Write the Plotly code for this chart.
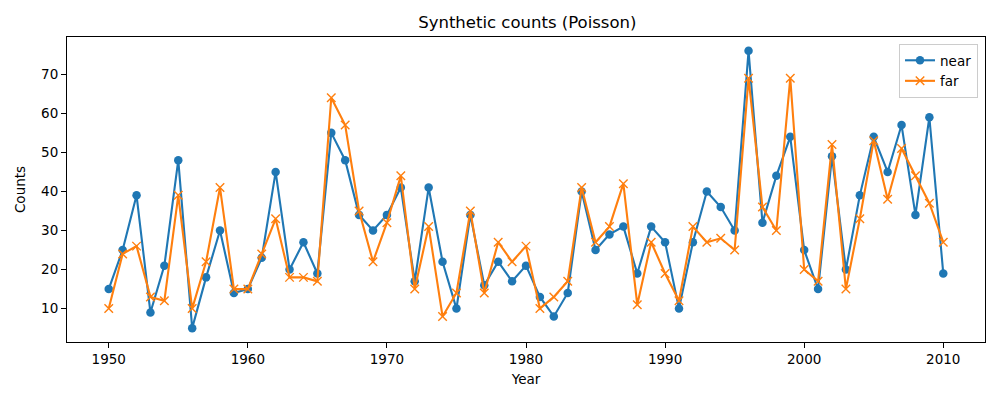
import plotly.graph_objects as go

# Data
years = list(range(1950, 2011))
near = [15, 25, 39, 9, 21, 48, 5, 18, 30, 14,
        15, 23, 45, 20, 27, 19, 55, 48, 34, 30,
        34, 41, 17, 41, 22, 10, 34, 16, 22, 17,
        21, 13, 8, 14, 40, 25, 29, 31, 19, 31,
        27, 10, 27, 40, 36, 30, 76, 32, 44, 54,
        25, 15, 49, 20, 39, 54, 45, 57, 34, 59,
        19]
far = [10, 24, 26, 13, 12, 39, 10, 22, 41, 15,
       15, 24, 33, 18, 18, 17, 64, 57, 35, 22,
       32, 44, 15, 31, 8, 14, 35, 14, 27, 22,
       26, 10, 13, 17, 41, 27, 31, 42, 11, 27,
       19, 12, 31, 27, 28, 25, 69, 36, 30, 69,
       20, 17, 52, 15, 33, 53, 38, 51, 44, 37,
       27]
x_ticks = [1950, 1960, 1970, 1980, 1990, 2000, 2010]
y_ticks = [10, 20, 30, 40, 50, 60, 70]

blue = "#1f77b4"
orange = "#ff7f0e"
font = "DejaVu Sans"

fig = go.Figure()
fig.add_trace(go.Scatter(x=years, y=near, name="near", mode="lines+markers",
                         line=dict(color=blue, width=2.1),
                         marker=dict(symbol="circle", size=8.5, color=blue)))
fig.add_trace(go.Scatter(x=years, y=far, name="far", mode="lines+markers",
                         line=dict(color=orange, width=2.1),
                         marker=dict(symbol="x-thin", size=8.5,
                                     line=dict(color=orange, width=1.4))))

ymin = min(min(near), min(far))
ymax = max(max(near), max(far))
ypad = (ymax - ymin) * 0.05
xpad = (years[-1] - years[0]) * 0.05

axis_style = dict(showline=True, linecolor="black", linewidth=1.1, mirror=True,
                  ticks="outside", ticklen=5, tickwidth=1.1, tickcolor="black",
                  showgrid=False, zeroline=False,
                  tickfont=dict(family=font, size=13.5, color="black"))

# the page body has an 8px margin, so the figure is a bit smaller than the window
fig.update_layout(
    width=992, height=392, autosize=False,
    margin=dict(l=55, r=15, t=29, b=58),
    paper_bgcolor="white", plot_bgcolor="white",
    font=dict(family=font, size=13.5, color="black"),
    title=dict(text="Synthetic counts (Poisson)", x=0.5235, xanchor="center",
               y=1 - 14 / 392, yanchor="middle", yref="container",
               font=dict(family=font, size=16.5, color="black")),
    xaxis=dict(range=[years[0] - xpad, years[-1] + xpad], tickvals=x_ticks,
               title=dict(text="Year", standoff=8,
                          font=dict(family=font, size=13.5)), **axis_style),
    yaxis=dict(range=[ymin - ypad, ymax + ypad], tickvals=y_ticks,
               title=dict(text="Counts", standoff=12,
                          font=dict(family=font, size=13.5)), **axis_style),
    legend=dict(x=0.9924, xanchor="right", y=0.977, yanchor="top",
                bgcolor="rgba(255,255,255,0.8)", bordercolor="#cccccc",
                borderwidth=1, font=dict(family=font, size=13.5),
                tracegroupgap=0),
    showlegend=True,
)

fig.write_html("out.html")
